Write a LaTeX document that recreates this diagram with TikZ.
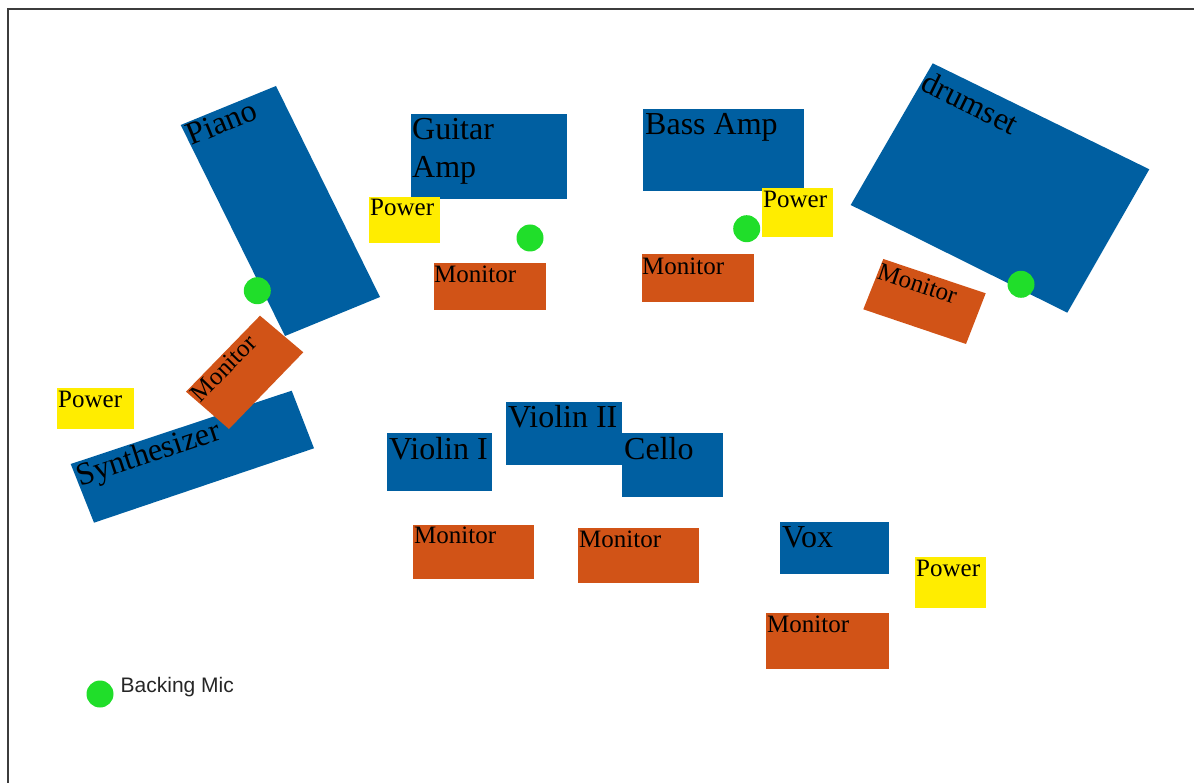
\documentclass[tikz,border=0pt]{standalone}
\usepackage{fontspec}
\setmainfont{Liberation Serif}
\newfontfamily\lsans{Liberation Sans}
\definecolor{stageblue}{RGB}{0,95,161}
\definecolor{monorange}{RGB}{209,83,23}
\definecolor{powyellow}{RGB}{255,237,0}
\definecolor{micgreen}{RGB}{32,222,42}
\definecolor{framegray}{RGB}{60,60,60}
\newcommand\bigtxt{\fontsize{32}{38}\selectfont}
\newcommand\smalltxt{\fontsize{25}{30}\selectfont}
\tikzset{
  blk/.style={fill=stageblue, draw=none, inner sep=0pt, anchor=north west},
  mon/.style={fill=monorange, draw=none, inner sep=0pt, anchor=north west},
  pow/.style={fill=powyellow, draw=none, inner sep=0pt, anchor=north west},
  mic/.style={circle, fill=micgreen, draw=none, inner sep=0pt, minimum size=27pt},
  bigl/.style={font=\bigtxt, inner sep=0pt, anchor=north west, align=left, text=black},
  smalll/.style={font=\smalltxt, inner sep=0pt, anchor=north west, text=black},
  rotl/.style={inner sep=2pt, anchor=north west, text=black},
}
\begin{document}
\begin{tikzpicture}[x=1pt,y=-1pt]
\useasboundingbox (0,0) rectangle (1194,783);
% frame
\draw[framegray, line width=1.5pt] (8,783) -- (8,9) -- (1194,9);

% Piano
\fill[stageblue] (276,86) -- (380,297) -- (285,336) -- (180.7,125) -- cycle;
\node[rotl, font=\bigtxt, rotate=22.3] (pianoT) at (180.7,125) {Piano};
\node[mic] (micP) at (257.3,290.7) {};

% Synthesizer
\fill[stageblue] (70.7,464) -- (291.7,390.7) -- (314,448.3) -- (94,522.7) -- cycle;
% left monitor
\fill[monorange] (186,391.7) -- (260,315.7) -- (303.3,352.3) -- (229,429) -- cycle;
\node[rotl, font=\smalltxt, rotate=45.8] (monLT) at (186,391.7) {Monitor};
\node[rotl, font=\bigtxt, rotate=18.35] (synT) at (70.7,464) {Synthesizer};

% left power
\node[pow, minimum width=77pt, minimum height=41pt] (powL) at (57,388) {};
\node[smalll] (powLT) at ([shift={(1,3)}]powL.north west) {Power};

% Guitar amp
\node[blk, minimum width=156pt, minimum height=85pt] (gamp) at (411,114) {};
\node[bigl] (gampT) at ([shift={(1,4)}]gamp.north west) {Guitar\\Amp};
\node[pow, minimum width=71pt, minimum height=46pt] (powG) at (369,197) {};
\node[smalll] (powGT) at ([shift={(1,2)}]powG.north west) {Power};
\node[mic] (micG) at (530,238) {};
\node[mon, minimum width=112pt, minimum height=47pt] (monG) at (434,263) {};
\node[smalll] (monGT) at ([shift={(0,3)}]monG.north west) {Monitor};

% Bass amp
\node[blk, minimum width=161pt, minimum height=82pt] (bamp) at (643,109) {};
\node[bigl] (bampT) at ([shift={(2,4)}]bamp.north west) {Bass Amp};
\node[pow, minimum width=71pt, minimum height=49pt] (powB) at (762,188) {};
\node[smalll] (powBT) at ([shift={(1,3)}]powB.north west) {Power};
\node[mic] (micB) at (746.7,228.7) {};
\node[mon, minimum width=112pt, minimum height=48pt] (monB) at (642,254) {};
\node[smalll] (monBT) at ([shift={(0,4)}]monB.north west) {Monitor};

% drumset
\fill[stageblue] (932.7,63.3) -- (1149.3,169.3) -- (1067.3,312.7) -- (850.7,205) -- cycle;
\node[rotl, font=\bigtxt, rotate=-26.1] (drumT) at (928,67) {drumset};
\fill[monorange] (883.3,259) -- (985.7,293.3) -- (966,344) -- (863.3,309.3) -- cycle;
\node[rotl, font=\smalltxt, rotate=-18.5] (monDT) at (880,260) {Monitor};
\node[mic] (micD) at (1021,284.3) {};

% strings
\node[blk, minimum width=105pt, minimum height=58pt] (vln1) at (387,433) {};
\node[bigl] (vln1T) at ([shift={(2,4)}]vln1.north west) {Violin I};
\node[blk, minimum width=116pt, minimum height=63pt] (vln2) at (506,402) {};
\node[bigl] (vln2T) at ([shift={(2,3)}]vln2.north west) {Violin II};
\node[blk, minimum width=101pt, minimum height=64pt] (cello) at (622,433) {};
\node[bigl] (celloT) at ([shift={(2,4)}]cello.north west) {Cello};
\node[mon, minimum width=121pt, minimum height=54pt] (monV1) at (413,525) {};
\node[smalll] (monV1T) at ([shift={(1,2)}]monV1.north west) {Monitor};
\node[mon, minimum width=121pt, minimum height=55pt] (monV2) at (578,528) {};
\node[smalll] (monV2T) at ([shift={(1,3)}]monV2.north west) {Monitor};

% vox
\node[blk, minimum width=109pt, minimum height=52pt] (vox) at (780,522) {};
\node[bigl] (voxT) at ([shift={(2,4)}]vox.north west) {Vox};
\node[pow, minimum width=71pt, minimum height=51pt] (powV) at (915,557) {};
\node[smalll] (powVT) at ([shift={(1,3)}]powV.north west) {Power};
\node[mon, minimum width=123pt, minimum height=56pt] (monX) at (766,613) {};
\node[smalll] (monXT) at ([shift={(1,3)}]monX.north west) {Monitor};

% legend
\node[mic] (micL) at (100,694) {};
\node[font=\lsans\fontsize{21}{25}\selectfont, text=black!85, inner sep=0pt, anchor=base west] (micLT) at (120.5,692.7) {Backing Mic};
\end{tikzpicture}
\end{document}
